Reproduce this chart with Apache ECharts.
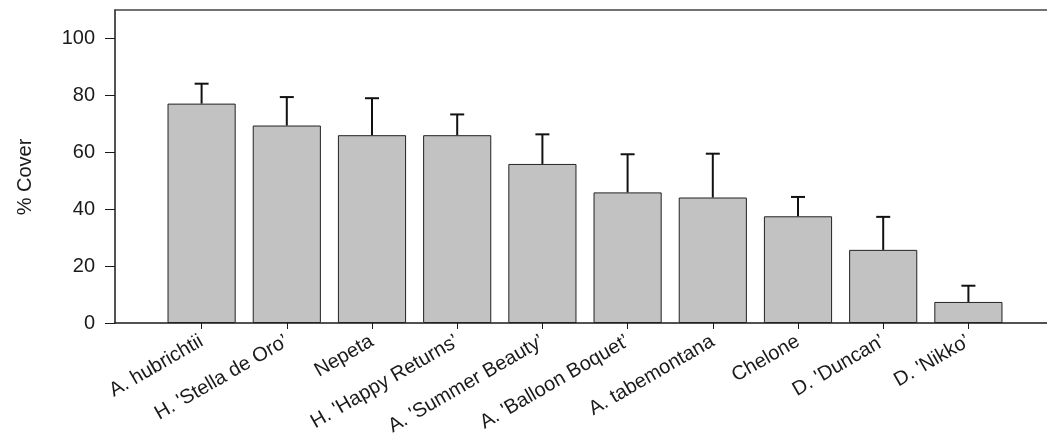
<!DOCTYPE html>
<html>
<head>
<meta charset="utf-8">
<style>
  html, body { margin: 0; padding: 0; background: #ffffff; }
  #chart { width: 1047px; height: 442px; }
</style>
<script src="https://cdn.jsdelivr.net/npm/echarts@6/dist/echarts.min.js"></script>
</head>
<body>
<div id="chart"></div>
<script>
// Plant species / cultivars, ranked by mean cover
const categories = [
  'A. hubrichtii', "H. 'Stella de Oro\u2019", 'Nepeta', "H. 'Happy Returns\u2019",
  "A. 'Summer Beauty\u2019", "A. 'Balloon Boquet\u2019", 'A. tabemontana', 'Chelone',
  "D. 'Duncan\u2019", "D. 'Nikko\u2019"
];
// Mean % cover
const coverMean = [77.1, 69.4, 66.0, 66.0, 55.9, 45.9, 44.1, 37.5, 25.7, 7.4];
// Upper error (standard error) above each mean
const coverError = [7.0, 10.0, 13.0, 7.3, 10.4, 13.4, 15.4, 6.8, 11.6, 5.7];
// Y-axis ticks
const yTicks = [0, 20, 40, 60, 80, 100];
const yMax = 110;
const yTitle = '% Cover';

const FONT = '"Liberation Sans", Arial, sans-serif';
const INK = '#1a1a1a';

const chart = echarts.init(document.getElementById('chart'), null, { renderer: 'canvas' });

const errorData = coverMean.map((m, i) => [i, m, m + coverError[i]]);

chart.setOption({
  animation: false,
  backgroundColor: '#ffffff',
  grid: [
    // bars: band of the ten categories
    { left: 159, right: 36, top: 10, bottom: 119, containLabel: false },
    // frame: left axis, top line and baseline across the full plot width
    { left: 115, right: 0, top: 10, bottom: 119, containLabel: false }
  ],
  graphic: [
    {
      type: 'text', x: 25, y: 177, rotation: Math.PI / 2,
      style: {
        text: yTitle, fontFamily: FONT, fontSize: 20, fill: INK,
        align: 'center', verticalAlign: 'middle'
      }
    }
  ],
  xAxis: [
    {
      gridIndex: 0,
      type: 'category',
      data: categories,
      boundaryGap: true,
      axisLine: { show: false },
      axisTick: { show: true, alignWithLabel: true, length: 6, lineStyle: { color: INK, width: 1 } },
      axisLabel: {
        rotate: 30, margin: 17, interval: 0,
        fontFamily: FONT, fontSize: 20, color: INK
      },
      splitLine: { show: false }
    },
    {
      gridIndex: 1, type: 'value', min: 0, max: 1, position: 'bottom',
      axisLine: { show: true, lineStyle: { color: INK, width: 1.5 } },
      axisTick: { show: false }, axisLabel: { show: false }, splitLine: { show: false }
    },
    {
      gridIndex: 1, type: 'value', min: 0, max: 1, position: 'top',
      axisLine: { show: true, lineStyle: { color: '#444', width: 1.5 } },
      axisTick: { show: false }, axisLabel: { show: false }, splitLine: { show: false }
    }
  ],
  yAxis: [
    {
      gridIndex: 0, type: 'value', min: 0, max: yMax, show: false
    },
    {
      gridIndex: 1, type: 'value', min: 0, max: yMax,
      axisLine: { show: true, lineStyle: { color: INK, width: 1.5 } },
      axisTick: {
        show: true, length: 10, inside: false,
        customValues: yTicks, lineStyle: { color: INK, width: 1 }
      },
      axisLabel: {
        customValues: yTicks, margin: 20,
        fontFamily: FONT, fontSize: 20, color: INK
      },
      splitLine: { show: false }
    }
  ],
  series: [
    {
      type: 'bar',
      xAxisIndex: 0, yAxisIndex: 0,
      data: coverMean,
      barCategoryGap: '20%',
      itemStyle: { color: '#c2c2c2', borderColor: '#222', borderWidth: 1 },
      z: 2
    },
    {
      type: 'custom',
      xAxisIndex: 0, yAxisIndex: 0,
      data: errorData,
      z: 3,
      renderItem: function (params, api) {
        const x = api.value(0);
        const base = api.coord([x, api.value(1)]);
        const top = api.coord([x, api.value(2)]);
        const half = 7;
        const style = { stroke: '#111', lineWidth: 2 };
        return {
          type: 'group',
          children: [
            { type: 'line', shape: { x1: base[0], y1: base[1], x2: top[0], y2: top[1] }, style: style },
            { type: 'line', shape: { x1: top[0] - half, y1: top[1], x2: top[0] + half, y2: top[1] }, style: style }
          ]
        };
      }
    }
  ]
});
</script>
</body>
</html>
